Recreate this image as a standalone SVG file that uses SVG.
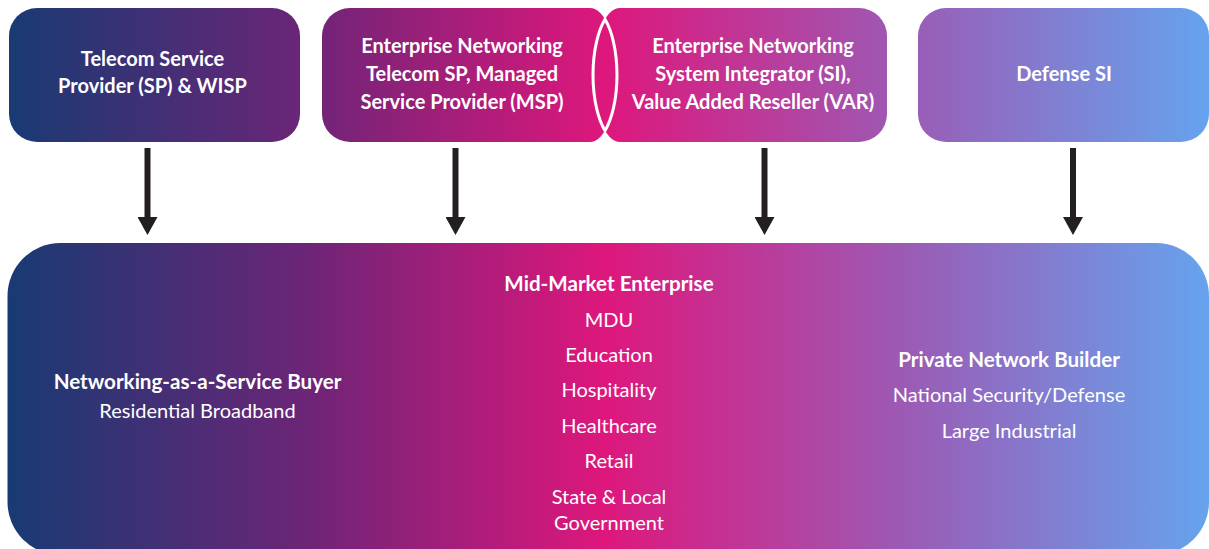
<svg xmlns="http://www.w3.org/2000/svg" width="1209" height="549" viewBox="0 0 1209 549">
  <defs>
    <linearGradient id="g" gradientUnits="userSpaceOnUse" x1="0" y1="0" x2="1209" y2="0">
      <stop offset="0" stop-color="#163b73"/>
      <stop offset="0.25" stop-color="#6b2577"/>
      <stop offset="0.5" stop-color="#de177c"/>
      <stop offset="0.75" stop-color="#9b5bb5"/>
      <stop offset="1" stop-color="#66a3ee"/>
    </linearGradient>
    <marker id="ah" markerUnits="userSpaceOnUse" markerWidth="18" markerHeight="20" viewBox="0 0 18 20" refX="3" refY="10" orient="auto">
      <path d="M0,0 L18,10 L0,20 Z" fill="#231f20"/>
    </marker>
    <style>
      .box { fill: url(#g); }
      .t { font-family: Lato, "Liberation Sans", sans-serif; fill: #ffffff; text-anchor: middle; }
      .h { font-size: 20px; font-weight: bold; }
      .b { font-size: 20.6px; font-weight: bold; }
      .r { font-size: 20px; font-weight: normal; }
      .arrow { stroke: #231f20; stroke-width: 6; fill: none; marker-end: url(#ah); }
    </style>
  </defs>
  <rect width="1209" height="549" fill="#ffffff"/>

  <g id="connectors">
    <line class="arrow" x1="147.5" y1="148" x2="147.5" y2="220"/>
    <line class="arrow" x1="455.5" y1="148" x2="455.5" y2="220"/>
    <line class="arrow" x1="764.5" y1="148" x2="764.5" y2="220"/>
    <line class="arrow" x1="1073" y1="148" x2="1073" y2="220"/>
  </g>

  <g id="node-telecom-sp">
    <rect class="box" x="9" y="8" width="291" height="134" rx="28"/>
    <text class="t h" x="152.5" y="66">Telecom Service</text>
    <text class="t h" x="152.5" y="93">Provider (SP) &amp; WISP</text>
  </g>

  <g id="node-enterprise-msp">
    <path class="box" d="M350,8 H590 A27 67 0 0 1 590,142 H350 A28 28 0 0 1 322,114 V36 A28 28 0 0 1 350,8 Z"/>
    <text class="t h" x="462" y="53">Enterprise Networking</text>
    <text class="t h" x="462" y="81">Telecom SP, Managed</text>
    <text class="t h" x="462" y="109">Service Provider (MSP)</text>
  </g>

  <g id="node-enterprise-si">
    <path class="box" d="M620,8 H859 A28 28 0 0 1 887,36 V114 A28 28 0 0 1 859,142 H620 A27 67 0 0 1 620,8 Z"/>
    <text class="t h" x="753" y="53">Enterprise Networking</text>
    <text class="t h" x="753" y="81">System Integrator (SI),</text>
    <text class="t h" x="753" y="109">Value Added Reseller (VAR)</text>
  </g>

  <path id="overlap" d="M605,19.3 A27 67 0 0 0 605,130.7 A27 67 0 0 0 605,19.3 Z" fill="none" stroke="#ffffff" stroke-width="3"/>

  <g id="node-defense-si">
    <rect class="box" x="918" y="8" width="291" height="134" rx="28"/>
    <text class="t h" x="1064" y="81">Defense SI</text>
  </g>

  <g id="node-customers">
    <rect class="box" x="7.5" y="243" width="1201.5" height="312" rx="53"/>
    <text class="t b" x="197.5" y="389">Networking-as-a-Service Buyer</text>
    <text class="t r" x="197.5" y="418">Residential Broadband</text>

    <text class="t b" x="609" y="291">Mid-Market Enterprise</text>
    <text class="t r" x="609" y="327">MDU</text>
    <text class="t r" x="609" y="362">Education</text>
    <text class="t r" x="609" y="397">Hospitality</text>
    <text class="t r" x="609" y="433">Healthcare</text>
    <text class="t r" x="609" y="468">Retail</text>
    <text class="t r" x="609" y="504">State &amp; Local</text>
    <text class="t r" x="609" y="530">Government</text>

    <text class="t b" x="1009" y="367">Private Network Builder</text>
    <text class="t r" x="1009" y="402">National Security/Defense</text>
    <text class="t r" x="1009" y="438">Large Industrial</text>
  </g>
</svg>
